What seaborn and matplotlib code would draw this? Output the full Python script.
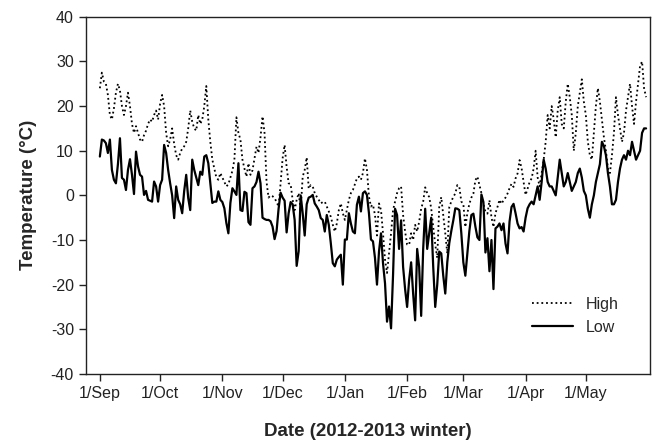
import pandas as pd
import matplotlib
matplotlib.use("Agg")
import matplotlib.pyplot as plt
import seaborn as sns

# ================== DATA (daily, from 1 Sep 2012) ==================
start_date = "2012-09-01"

high = [
    24, 27.5, 25.5, 25, 22.5, 18, 17, 19.5, 23, 25,
    23.5, 20, 18, 20, 23, 20, 16, 14, 15.5, 14,
    12.5, 12, 13.5, 14.5, 16, 17, 16.5, 18, 19, 17,
    20.5, 22.5, 20, 14, 11, 12.5, 15, 11.5, 9, 8,
    9.5, 10.5, 11, 12, 15, 19, 16.5, 15, 14.5, 18,
    16, 17, 20, 24.5, 17, 12, 8, 6, 4, 3.5,
    5, 4, 3, 2, 2.5, 4, 5.5, 8, 17.5, 14,
    12.5, 8, 6, 4.2, 7.2, 4.6, 5.6, 8.3, 10.9, 9.5,
    13, 17.7, 14, 3, -0.5, 0, -0.2, -0.6, -1.5, -2.5,
    2.7, 8.3, 11.3, 6.4, 2.7, 2.5, -1, -3.3, -1, 0.5,
    -3.3, 4.2, 5.7, 8.5, 1.5, 2.3, 2.0, 0.5, -0.3, -1,
    -1.8, -1.5, -1.4, -2.5, -3.6, -4.8, -6.6, -8.1, -6.3, -3.3,
    -1.8, -4, -5.5, -3.3, -1, 0.5, 1.2, 2.5, 3.8, 4.2,
    3.5, 5, 8.3, 5.7, -0.3, -2.5, -2.1, -4.4, -9, -1.8,
    -3.3, -8.5, -14.4, -17.4, -13, -8.5, -3.3, -1.4, 0.5, 1.6,
    2.0, -4.4, -8.1, -11, -11.1, -8.5, -10, -6.6, -8.1, -5.9,
    -3, -1.4, 1.8, 0.5, -0.4, -2.9, -7.1, -11, -14, -2.6,
    -0.4, -4.4, -8.5, -13, -2.6, -1.4, -0.3, 0.4, 2.3, 1.9,
    -1.4, -1.9, -7.1, -4, -1.9, -0.5, 0.4, 3.4, 4.2, 2.3,
    0.5, -1.9, -3.7, -4.1, -1.1, -4.9, -7.1, -4, -2.6, -1.0,
    -1.9, -1.1, -0.5, 0.4, 1.6, 2.6, 1.9, 3.8, 4.9, 7.9,
    6.1, 3, 0.1, 1.5, 3, 3.8, 6, 10, 4, 2,
    5, 8, 12, 18, 15, 20, 17, 13, 19, 22,
    16, 15, 21, 25, 22, 18, 10, 14, 20, 23,
    26, 21, 18, 12, 9, 8, 14, 20, 24, 21,
    17, 13, 10, 6, 5, 9, 14, 22, 18, 15,
    12, 14, 19, 22, 25, 20, 16, 21, 25, 29,
    30, 24, 22,
]

low = [
    8.7, 12.5, 12.3, 11.7, 9.5, 12.5, 5.7, 3.5, 2.7, 7,
    12.8, 3.9, 3.5, 1.2, 5.7, 8.1, 4.6, 0.3, 9.8, 6.5,
    4.6, 4.2, 0.1, 1.0, -1.0, -1.2, -1.4, 3.1, 2.0, -1.4,
    2.3, 3.5, 11.3, 9.5, 5.7, 2.7, 0, -5.1, 2.0, -1.0,
    -2, -4.0, 1, 4.6, -0.6, -3.3, 8.0, 5.7, 4, 2.3,
    5.3, 4.6, 8.7, 9.0, 7.2, 2.7, -1.7, -1.4, -1.4, 0.9,
    -1.0, -1.5, -2.9, -6.2, -8.5, -1.7, 1.6, 0.9, 0.1, 7.2,
    -3.3, -3.5, 0.8, 0.5, -6, -6.6, 1.6, 2, 3, 5.3,
    2.7, -5, -5.3, -5.5, -5.5, -5.8, -7, -9.8, -8, -3,
    0.6, -0.5, -1.2, -8.3, -4, -1.5, -2, -5.5, -15.8, -12.5,
    0, -4, -9, -2, -0.5, -0.3, 0.1, -1.8, -2.5, -3.3,
    -5.1, -5.5, -8.1, -4.4, -6.6, -10.7, -15.2, -15.9, -14.4, -13.8,
    -13.3, -20, -9.9, -9.9, -4.0, -6.3, -8.1, -8.5, -2.1, -0.3,
    -3.6, 0.5, 0.9, 0.1, -4.0, -9.9, -10.3, -14, -20, -12.6,
    -8.5, -15.2, -19.7, -28.3, -24.9, -29.8, -17.8, -3, -4.4, -12,
    -5.6, -16, -21, -25, -19, -15, -22, -28, -12, -16,
    -27, -12, -3, -12, -8.5, -5, -16, -25, -20, -12.6,
    -13, -18, -22, -15, -10.7, -8, -5.6, -2.9, -3, -3.3,
    -8.5, -15, -18, -13, -8, -4.4, -4.1, -7, -9.4, -10,
    0.2, -1.5, -12.8, -9.6, -17, -10, -21, -7.4, -7, -6.3,
    -7.8, -6.3, -10.8, -13, -5.9, -2.6, -1.9, -4, -6.3, -7.4,
    -7.1, -8.1, -5, -2.9, -2, -1.4, -2, 0, 2, -1,
    3, 8, 6, 3, 2, 2, 1, 0, 4, 8,
    5, 2, 3, 5, 3, 1, 2, 3, 5, 6,
    4, 1, 0, -3, -5, -2, 0, 3, 5, 7,
    12, 11, 9, 5, 2, -2, -2, -1, 3, 6,
    8, 9, 8, 10, 9, 12, 10, 8, 9, 10,
    14, 15, 15,
]

tick_dates = ["2012-09-01", "2012-10-01", "2012-11-01", "2012-12-01", "2013-01-01",
              "2013-02-01", "2013-03-01", "2013-04-01", "2013-05-01"]
tick_labels = ["1/Sep", "1/Oct", "1/Nov", "1/Dec", "1/Jan", "1/Feb", "1/Mar", "1/Apr", "1/May"]
y_ticks = [-40, -30, -20, -10, 0, 10, 20, 30, 40]

# ================== BUILD TABLE ==================
dates = pd.date_range(start_date, periods=len(high), freq="D")
df = pd.DataFrame({"Date": dates, "High": high, "Low": low})
long_df = df.melt(id_vars="Date", var_name="Series", value_name="Temp")

# ================== PLOT ==================
sns.set_style("ticks")
plt.rcParams["font.family"] = ["Liberation Sans", "DejaVu Sans"]
plt.rcParams["axes.unicode_minus"] = False

fig = plt.figure(figsize=(6.6, 4.43), dpi=100)
ax = fig.add_axes([0.130, 0.156, 0.855, 0.806])

sns.lineplot(data=long_df, x="Date", y="Temp", style="Series",
             dashes={"High": (1, 1.6), "Low": ""}, color="black",
             linewidth=1.3, ax=ax)

# low line a bit heavier
for line in ax.get_lines():
    if line.get_linestyle() == "-":
        line.set_linewidth(1.6)

ax.set_ylim(-40, 40)
ax.set_yticks(y_ticks)
ax.set_xlim(pd.Timestamp("2012-08-25"), pd.Timestamp("2013-06-02"))
ax.set_xticks(pd.to_datetime(tick_dates))
ax.set_xticklabels(tick_labels)

ax.tick_params(direction="out", length=5, width=1, labelsize=11.5, colors="#222222")
for s in ax.spines.values():
    s.set_linewidth(1)
    s.set_color("#222222")

ax.set_xlabel("Date (2012-2013 winter)", fontsize=13.5, fontweight="bold", labelpad=16)
ax.set_ylabel("Temperature (\u00b0C)", fontsize=13.5, fontweight="bold", labelpad=10)

leg = ax.legend(loc="lower right", bbox_to_anchor=(0.97, 0.07), frameon=False,
                fontsize=11.5, handlelength=2.6, title=None)
for h in leg.get_lines():
    h.set_color("black")

fig.savefig("out.png", dpi=100)
